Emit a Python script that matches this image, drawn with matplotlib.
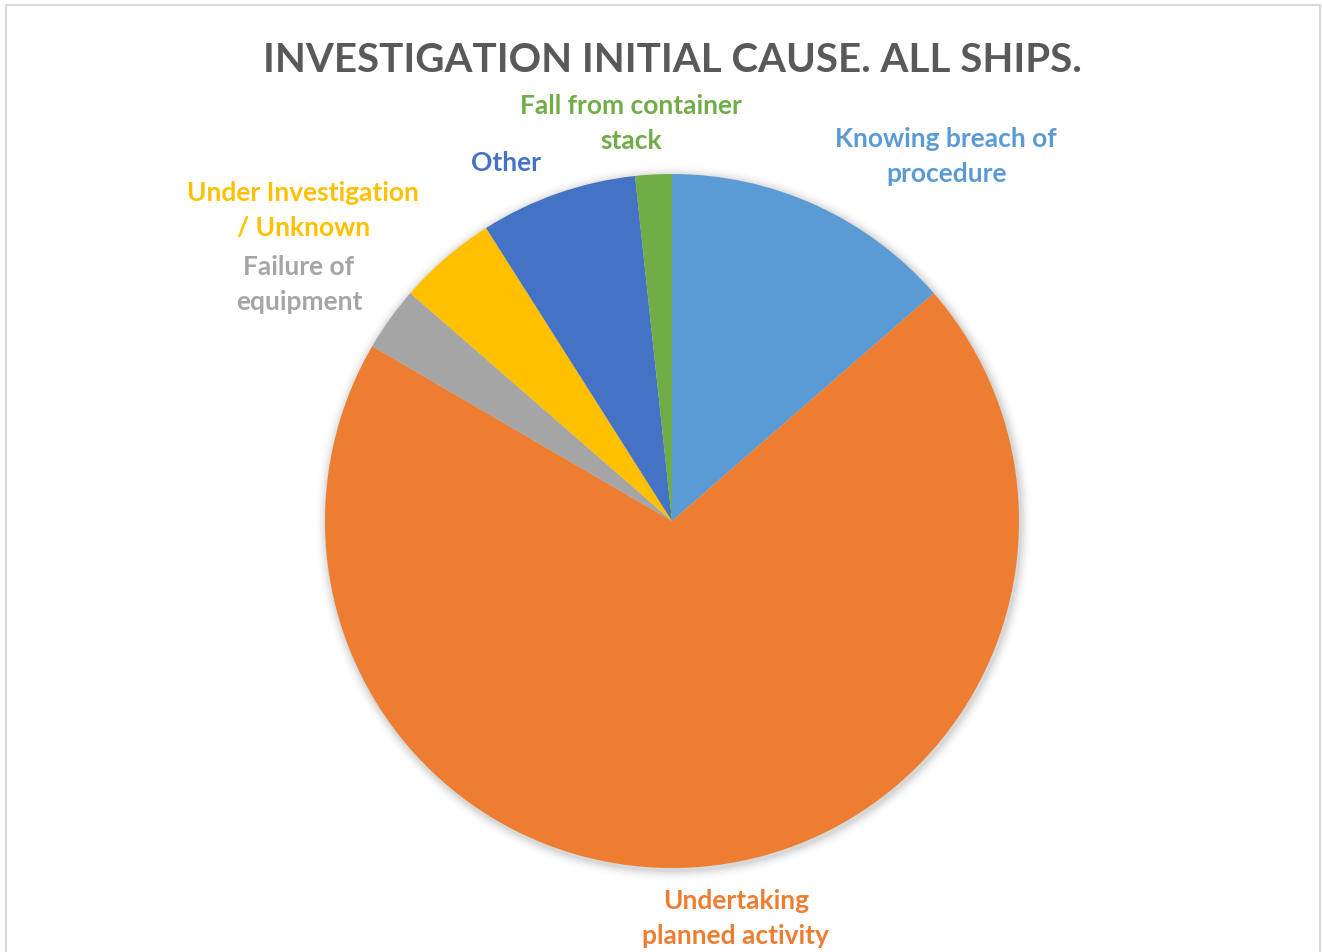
import matplotlib
matplotlib.use("Agg")
import matplotlib.pyplot as plt
from matplotlib.patches import Rectangle, Circle

# slices, clockwise from 12 o'clock
labels = ["Knowing breach of\nprocedure",
          "Undertaking\nplanned activity",
          "Failure of\nequipment",
          "Under Investigation\n/ Unknown",
          "Other",
          "Fall from container\nstack"]
values = [13.6, 69.8, 3.0, 4.6, 7.3, 1.7]
colors = ["#5B9BD5", "#ED7D31", "#A5A5A5", "#FFC000", "#4472C4", "#70AD47"]
label_pos = [(0.790, 1.052), (0.184, -1.144), (-1.075, 0.683),
             (-1.063, 0.899), (-0.478, 1.035), (-0.118, 1.147)]

W, H = 1322, 953
cx, cy, R = 672, 522, 347

fig = plt.figure(figsize=(W / 100, H / 100), dpi=100)
ax = fig.add_axes([0, 0, 1, 1])

# soft shadow round the pie
for i, a in enumerate([0.05, 0.04, 0.03, 0.02, 0.01]):
    ax.add_patch(Circle((0.004, -0.006), 1 + 0.006 * (i + 1), color="#000000",
                        alpha=a, lw=0, zorder=0))

ax.pie(values, colors=colors, startangle=90, counterclock=False, radius=1,
       center=(0, 0), frame=True, wedgeprops=dict(linewidth=0))
ax.set_xlim(-cx / R, (W - cx) / R)
ax.set_ylim((cy - H) / R, cy / R)
ax.set_aspect("auto")
ax.axis("off")

for lab, (x, y), c in zip(labels, label_pos, colors):
    ax.text(x, y, lab, color=c, ha="center", va="center", fontsize=19,
            family="Lato", fontweight="bold", linespacing=1.55)

ax.text(0, 1.331, "INVESTIGATION INITIAL CAUSE. ALL SHIPS.", color="#595959",
        ha="center", va="center", fontsize=29, family="Lato", fontweight="bold")

# chart border
fig.patches.append(Rectangle((6 / W, -0.01), (W - 8) / W, 1 - 6 / H + 0.01,
                             transform=fig.transFigure, fill=False,
                             edgecolor="#D9D9D9", lw=1.5))

fig.savefig("out.png", dpi=100, facecolor="white")
